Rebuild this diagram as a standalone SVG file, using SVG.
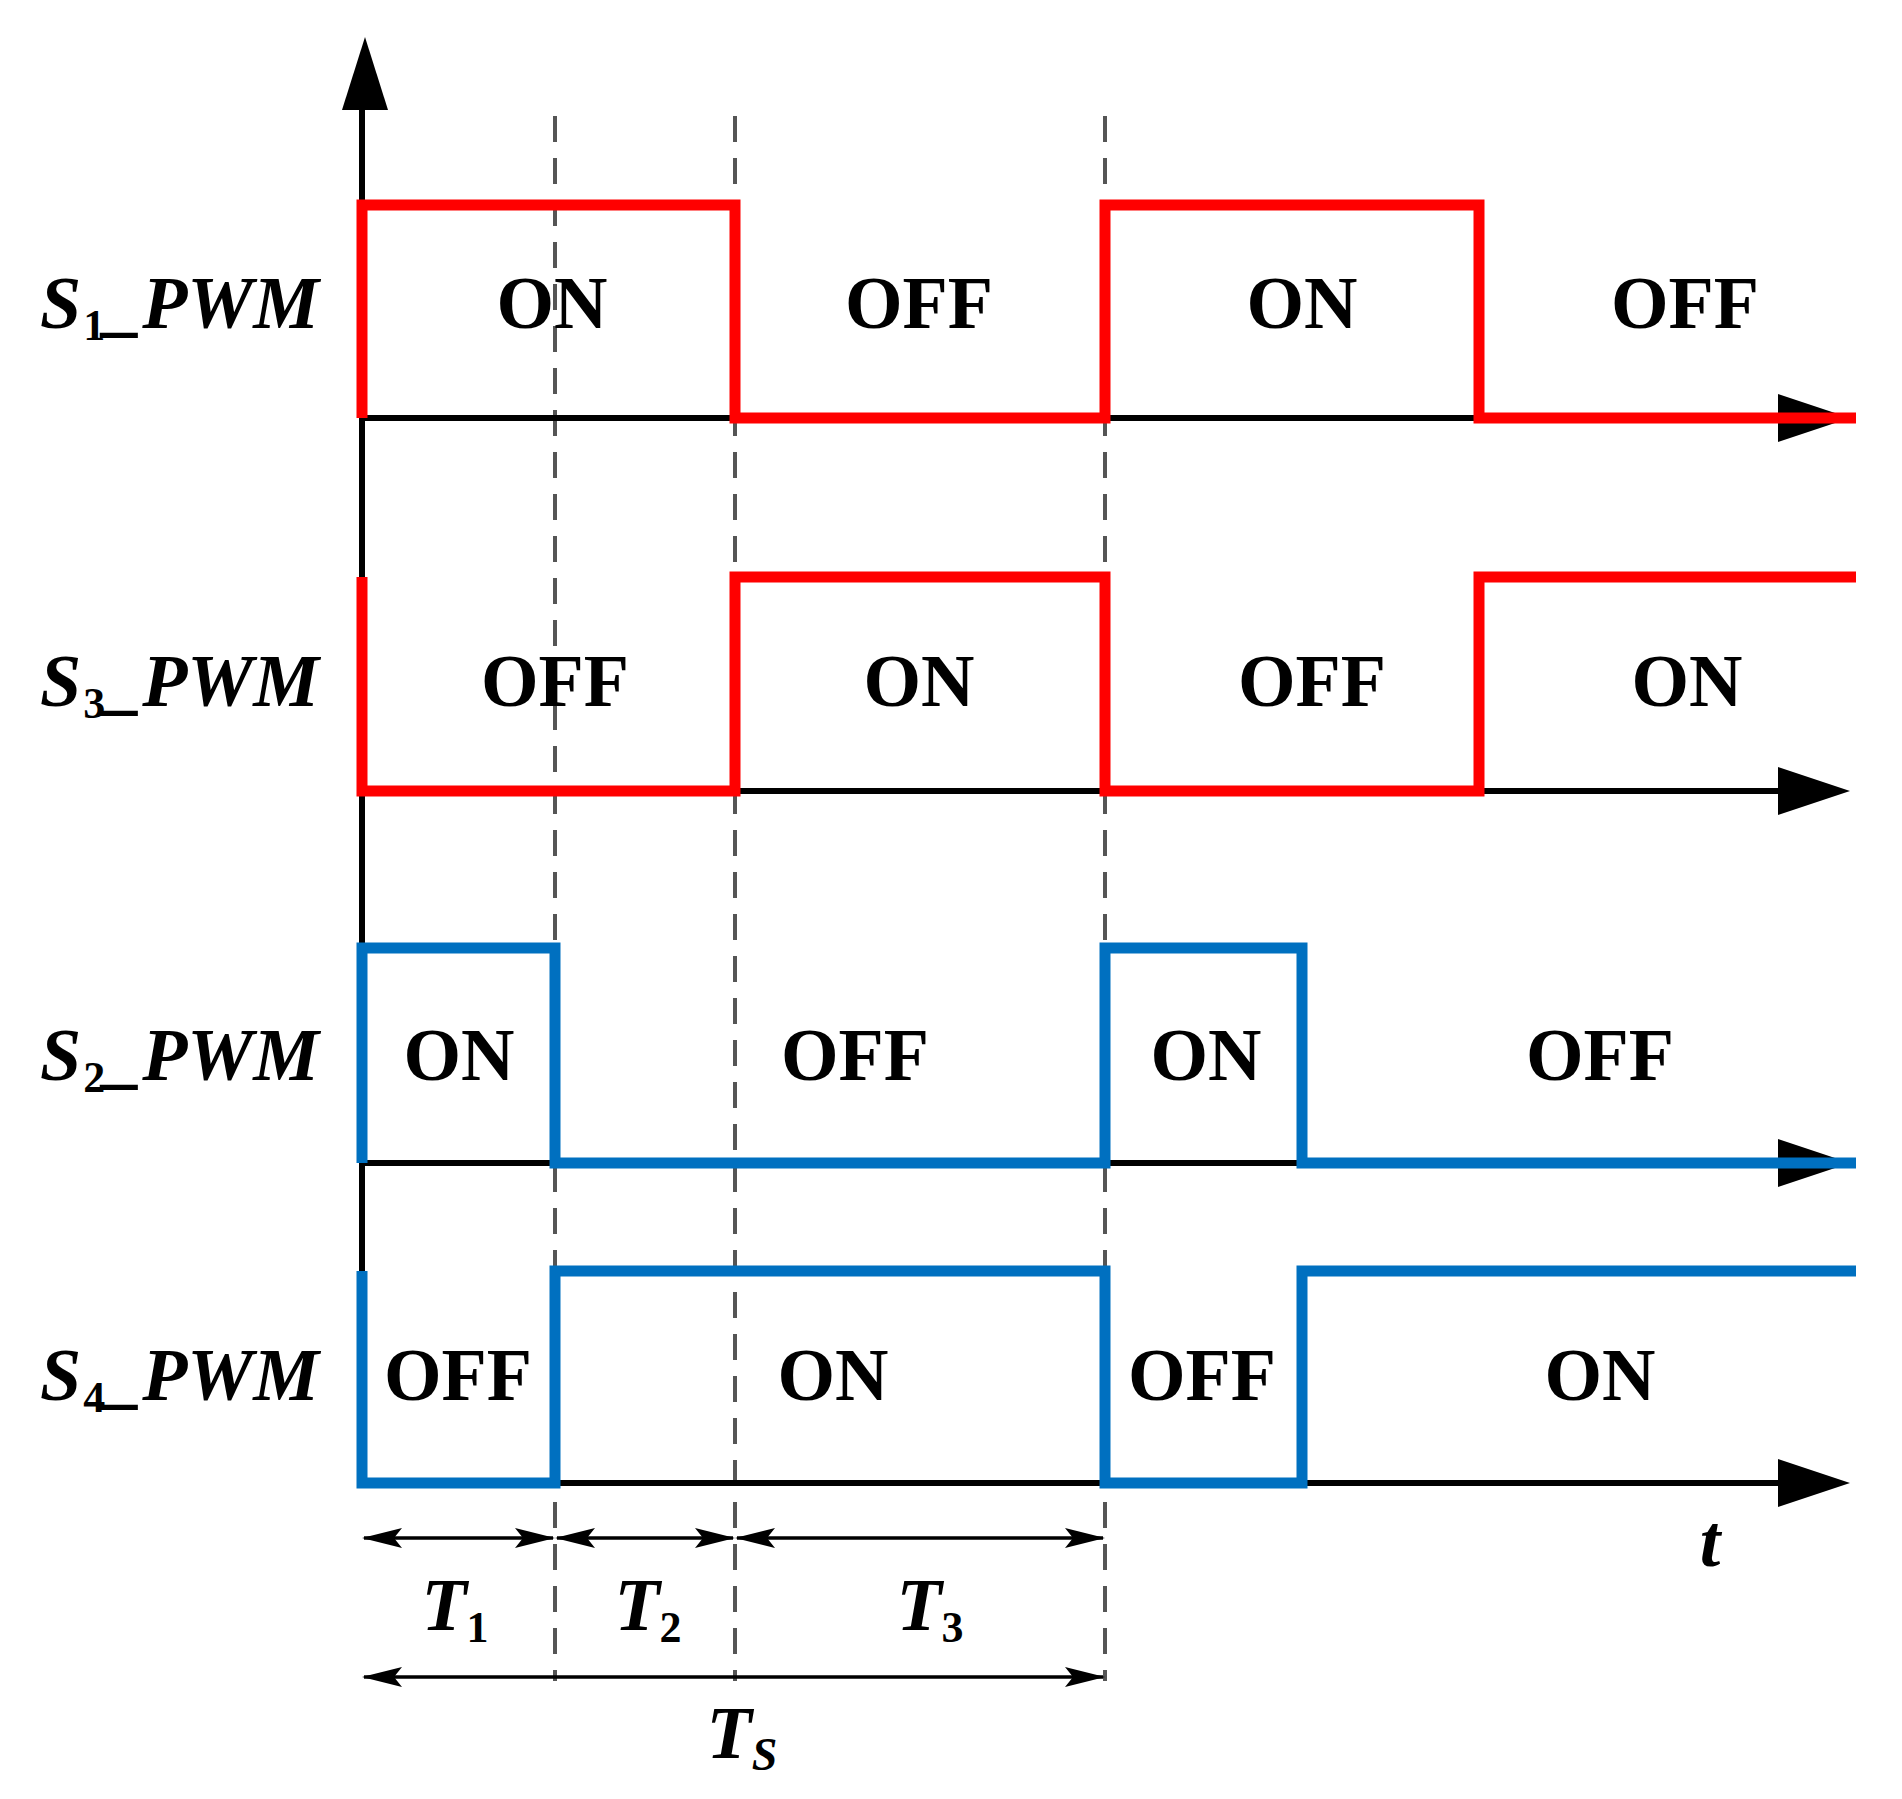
<svg xmlns="http://www.w3.org/2000/svg" width="1902" height="1799" viewBox="0 0 1902 1799">
<style>
.ax{stroke:#000;stroke-width:6;fill:none}
.d{stroke:#555;stroke-width:4;stroke-dasharray:26,16;fill:none}
.r{stroke:#ff0000;stroke-width:11;fill:none;stroke-linejoin:miter}
.b{stroke:#0070c0;stroke-width:11;fill:none;stroke-linejoin:miter}
.dim{stroke:#000;stroke-width:3.5;fill:none}
text{font-family:"Liberation Serif",serif;font-weight:bold;font-size:74px;fill:#000}
.st{text-anchor:middle}
.lb{font-style:italic}
.sub{font-style:normal;font-size:44px}
</style>
<defs>
<marker id="ah" viewBox="0 0 40 20" refX="38" refY="10" markerWidth="40" markerHeight="20" markerUnits="userSpaceOnUse" orient="auto-start-reverse"><path d="M0,0 L40,10 L0,20 L8,10 Z" fill="#000"/></marker>
</defs>
<g id="connectors">
<line class="d" x1="555" y1="116" x2="555" y2="1681"/>
<line class="d" x1="735" y1="116" x2="735" y2="1681"/>
<line class="d" x1="1105" y1="116" x2="1105" y2="1681"/>
<line class="ax" x1="362" y1="1486" x2="362" y2="100"/>
<polygon points="342,110 388,110 365,37"/>
<line class="ax" x1="362" y1="418" x2="1790" y2="418"/>
<polygon points="1778,394 1850,418 1778,442"/>
<line class="ax" x1="362" y1="791" x2="1790" y2="791"/>
<polygon points="1778,767 1850,791 1778,815"/>
<line class="ax" x1="362" y1="1163" x2="1790" y2="1163"/>
<polygon points="1778,1139 1850,1163 1778,1187"/>
<line class="ax" x1="362" y1="1483" x2="1790" y2="1483"/>
<polygon points="1778,1459 1850,1483 1778,1507"/>
<path class="r" d="M362,418 V205 H735 V418 H1105 V205 H1479 V418 H1856"/>
<path class="r" d="M362,577 V791 H735 V577 H1105 V791 H1479 V577 H1856"/>
<path class="b" d="M362,1163 V948 H555 V1163 H1105 V948 H1302 V1163 H1856"/>
<path class="b" d="M362,1271 V1483 H555 V1271 H1105 V1483 H1302 V1271 H1856"/>
<line class="dim" x1="364" y1="1538" x2="553" y2="1538" marker-start="url(#ah)" marker-end="url(#ah)"/>
<line class="dim" x1="557" y1="1538" x2="733" y2="1538" marker-start="url(#ah)" marker-end="url(#ah)"/>
<line class="dim" x1="737" y1="1538" x2="1103" y2="1538" marker-start="url(#ah)" marker-end="url(#ah)"/>
<line class="dim" x1="364" y1="1677" x2="1103" y2="1677" marker-start="url(#ah)" marker-end="url(#ah)"/>
</g>
<g id="labels">
<text class="lb" x="40" y="328">S<tspan class="sub" dy="12" dx="2">1</tspan><tspan dy="-12">_PWM</tspan></text>
<text class="lb" x="40" y="706">S<tspan class="sub" dy="12" dx="2">3</tspan><tspan dy="-12">_PWM</tspan></text>
<text class="lb" x="40" y="1080">S<tspan class="sub" dy="12" dx="2">2</tspan><tspan dy="-12">_PWM</tspan></text>
<text class="lb" x="40" y="1400">S<tspan class="sub" dy="12" dx="2">4</tspan><tspan dy="-12">_PWM</tspan></text>
</g>
<g id="states">
<text class="st" x="552" y="328">ON</text><text class="st" x="919" y="328">OFF</text><text class="st" x="1302" y="328">ON</text><text class="st" x="1685" y="328">OFF</text>
<text class="st" x="555" y="706">OFF</text><text class="st" x="919" y="706">ON</text><text class="st" x="1312" y="706">OFF</text><text class="st" x="1687" y="706">ON</text>
<text class="st" x="459" y="1080">ON</text><text class="st" x="855" y="1080">OFF</text><text class="st" x="1206" y="1080">ON</text><text class="st" x="1600" y="1080">OFF</text>
<text class="st" x="458" y="1400">OFF</text><text class="st" x="833" y="1400">ON</text><text class="st" x="1202" y="1400">OFF</text><text class="st" x="1600" y="1400">ON</text>
</g>
<g id="times">
<text class="st lb" x="455" y="1630">T<tspan class="sub" dy="12">1</tspan></text>
<text class="st lb" x="648" y="1630">T<tspan class="sub" dy="12">2</tspan></text>
<text class="st lb" x="930" y="1630">T<tspan class="sub" dy="12">3</tspan></text>
<text class="st lb" x="742" y="1758">T<tspan font-size="46" dy="12">S</tspan></text>
<text class="st lb" x="1710" y="1566">t</text>
</g>
</svg>
